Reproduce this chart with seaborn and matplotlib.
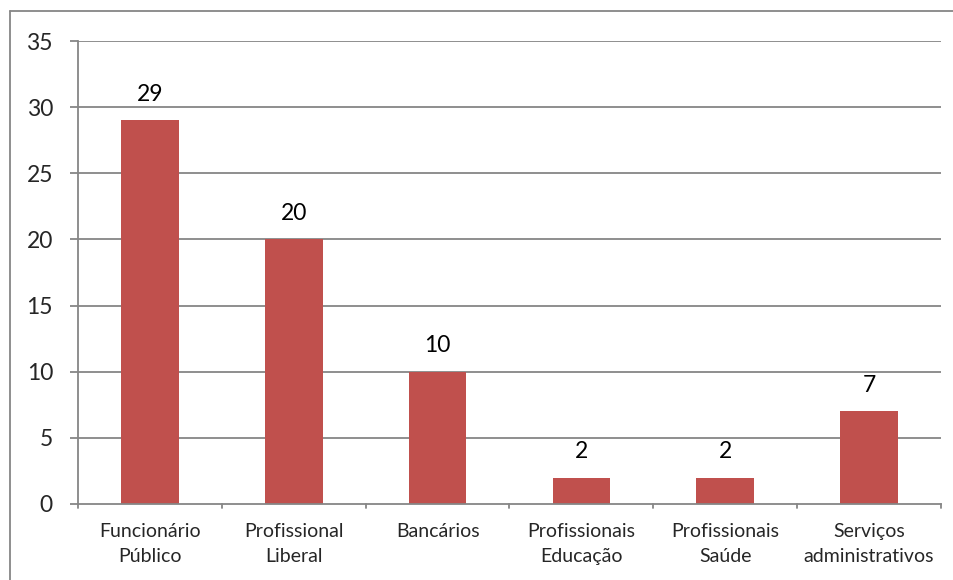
import matplotlib
matplotlib.use("Agg")
import matplotlib.pyplot as plt
import seaborn as sns
import pandas as pd
from matplotlib.lines import Line2D

categories = ["Funcionário\nPúblico", "Profissional\nLiberal", "Bancários",
              "Profissionais\nEducação", "Profissionais\nSaúde", "Serviços\nadministrativos"]
values = [29, 20, 10, 2, 2, 7]
yticks = [0, 5, 10, 15, 20, 25, 30, 35]

sns.set_theme(style="white")
plt.rcParams['font.family'] = ['Lato', 'DejaVu Sans']

df = pd.DataFrame({"cat": categories, "val": values})

fig = plt.figure(figsize=(9.54, 5.80), dpi=100)
ax = fig.add_axes([78/954, 1-504/580, (941-78)/954, (504-41)/580])

sns.barplot(data=df, x="cat", y="val", color="#C0504D", saturation=1,
            width=0.40, ax=ax, edgecolor="none")

ax.set_ylim(0, 35)
ax.set_xlim(-0.5, len(categories) - 0.5)
ax.set_yticks(yticks)
ax.set_yticklabels([str(t) for t in yticks], fontsize=16.5)
ax.set_xticks(range(len(categories)))
ax.set_xticklabels(categories, fontsize=14, linespacing=1.55, ha="center",
                   multialignment="center")
ax.set_xlabel("")
ax.set_ylabel("")
ax.tick_params(axis="x", length=0, pad=14)
ax.tick_params(axis="y", length=6, width=1.3, color="#868686", direction="out", pad=12, left=True)

for y in yticks[1:]:
    ax.axhline(y, color="#868686", lw=1.3, zorder=0)

# category separator ticks on x axis
for b in [i - 0.5 for i in range(len(categories) + 1)]:
    ax.plot([b, b], [0, -0.29], color="#868686", lw=1.3, clip_on=False, zorder=3)

for s in ["top", "right"]:
    ax.spines[s].set_visible(False)
for s in ["left", "bottom"]:
    ax.spines[s].set_color("#868686")
    ax.spines[s].set_linewidth(1.3)

for i, v in enumerate(values):
    ax.annotate(str(v), (i, v), xytext=(0, 11), textcoords="offset points",
                ha="center", va="bottom", fontsize=16.5, color="black")

# outer chart border (left and top visible)
fig.add_artist(Line2D([10/954, 10/954], [0, 1-11/580], transform=fig.transFigure,
                      color="#868686", lw=1.3))
fig.add_artist(Line2D([10/954, 1], [1-11/580, 1-11/580], transform=fig.transFigure,
                      color="#868686", lw=1.3))

fig.savefig("out.png", dpi=100)
